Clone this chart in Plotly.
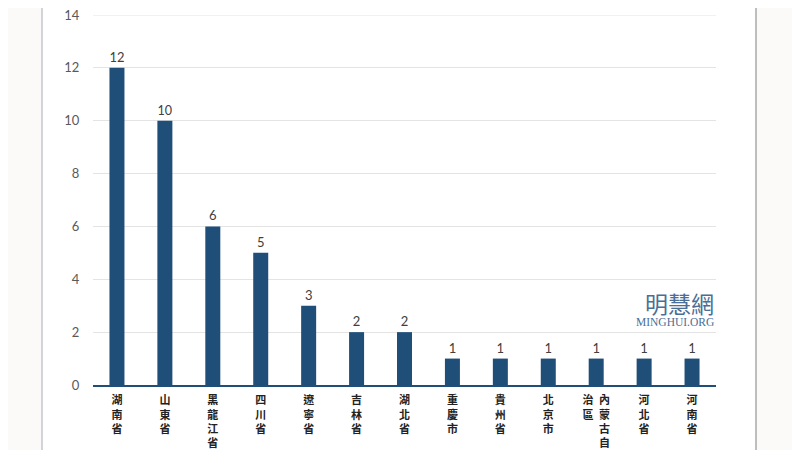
import plotly.graph_objects as go

categories = ["湖南省", "山東省", "黑龍江省", "四川省", "遼寧省", "吉林省", "湖北省",
              "重慶市", "貴州省", "北京市", "內蒙古自治區", "河北省", "河南省"]
values = [12, 10, 6, 5, 3, 2, 2, 1, 1, 1, 1, 1, 1]
y_ticks = [0, 2, 4, 6, 8, 10, 12, 14]


def vertical(name, per_col=4):
    cols = [name[i:i + per_col] for i in range(0, len(name), per_col)]
    if len(cols) == 1:
        return "<br>".join(cols[0])
    lines = []
    for r in range(per_col):
        parts = []
        for c in reversed(cols):
            parts.append(c[r] if r < len(c) else "\u3000")
        lines.append("\u2002".join(parts))
    return "<br>".join(lines)


ticktext = [vertical(c) for c in categories]

BAR = "#1f4e79"

# page body has an 8px offset; layout numbers below are figure pixels
L, R, T, B = 85, 92, 7, 73
PW, PH = 800 - L - R, 450 - T - B


def px(xf):
    return (xf - L) / PW


def py(yf):
    return (450 - B - yf) / PH


fig = go.Figure(go.Bar(
    x=categories, y=values,
    marker=dict(color=BAR, line=dict(width=0)),
    text=values, textposition="outside",
    textfont=dict(family="Lato, Liberation Sans, sans-serif", size=13, color="#404040"),
    cliponaxis=False,
))

fig.update_layout(
    width=800, height=450,
    margin=dict(l=L, r=R, t=T, b=B, autoexpand=False),
    paper_bgcolor="white", plot_bgcolor="white",
    bargap=0.687,
    showlegend=False,
    xaxis=dict(
        tickmode="array", tickvals=categories, ticktext=ticktext,
        tickangle=0, showgrid=False, showline=True, linecolor=BAR, linewidth=2,
        ticks="outside", ticklen=4, tickcolor="rgba(0,0,0,0)",
        tickfont=dict(family="Noto Sans CJK TC", size=11, color="#222222", weight=700),
        automargin=False, ticklabeloverflow="allow",
    ),
    yaxis=dict(
        range=[0, 14], tickvals=y_ticks, showgrid=True, gridcolor="#e4e4e4", gridwidth=1,
        zeroline=False, showline=False,
        ticks="outside", ticklen=10, tickcolor="rgba(0,0,0,0)",
        tickfont=dict(family="Lato, Liberation Sans, sans-serif", size=13, color="#595959"),
        automargin=False, ticklabeloverflow="allow",
    ),
    shapes=[
        dict(type="rect", xref="paper", yref="paper", x0=px(-10), x1=px(34), y0=py(470), y1=py(-10),
             fillcolor="#fbfaf8", line=dict(width=0), layer="below"),
        dict(type="rect", xref="paper", yref="paper", x0=px(748), x1=px(810), y0=py(470), y1=py(-10),
             fillcolor="#fbfaf8", line=dict(width=0), layer="below"),
        dict(type="line", xref="paper", yref="paper", x0=px(34), x1=px(34), y0=py(470), y1=py(-10),
             line=dict(color="#c4c4cc", width=1.5)),
        dict(type="line", xref="paper", yref="paper", x0=px(748), x1=px(748), y0=py(470), y1=py(-10),
             line=dict(color="#a8a8a8", width=1.5)),
        dict(type="line", xref="x domain", yref="y", x0=0, x1=1, y0=14, y1=14,
             line=dict(color="#e4e4e4", width=1), layer="below"),
    ],
    annotations=[
        dict(text="明慧網", xref="x domain", yref="y", x=1.0, y=3.1, xanchor="right", yanchor="middle",
             showarrow=False, font=dict(family="Noto Sans CJK TC", size=23, color="#4a6e96")),
        dict(text="MINGHUI.ORG", xref="x domain", yref="y", x=1.0, y=2.4, xanchor="right", yanchor="middle",
             showarrow=False, font=dict(family="Liberation Serif", size=11.5, color="#4a6e96")),
    ],
)

fig.write_html("out.html")
